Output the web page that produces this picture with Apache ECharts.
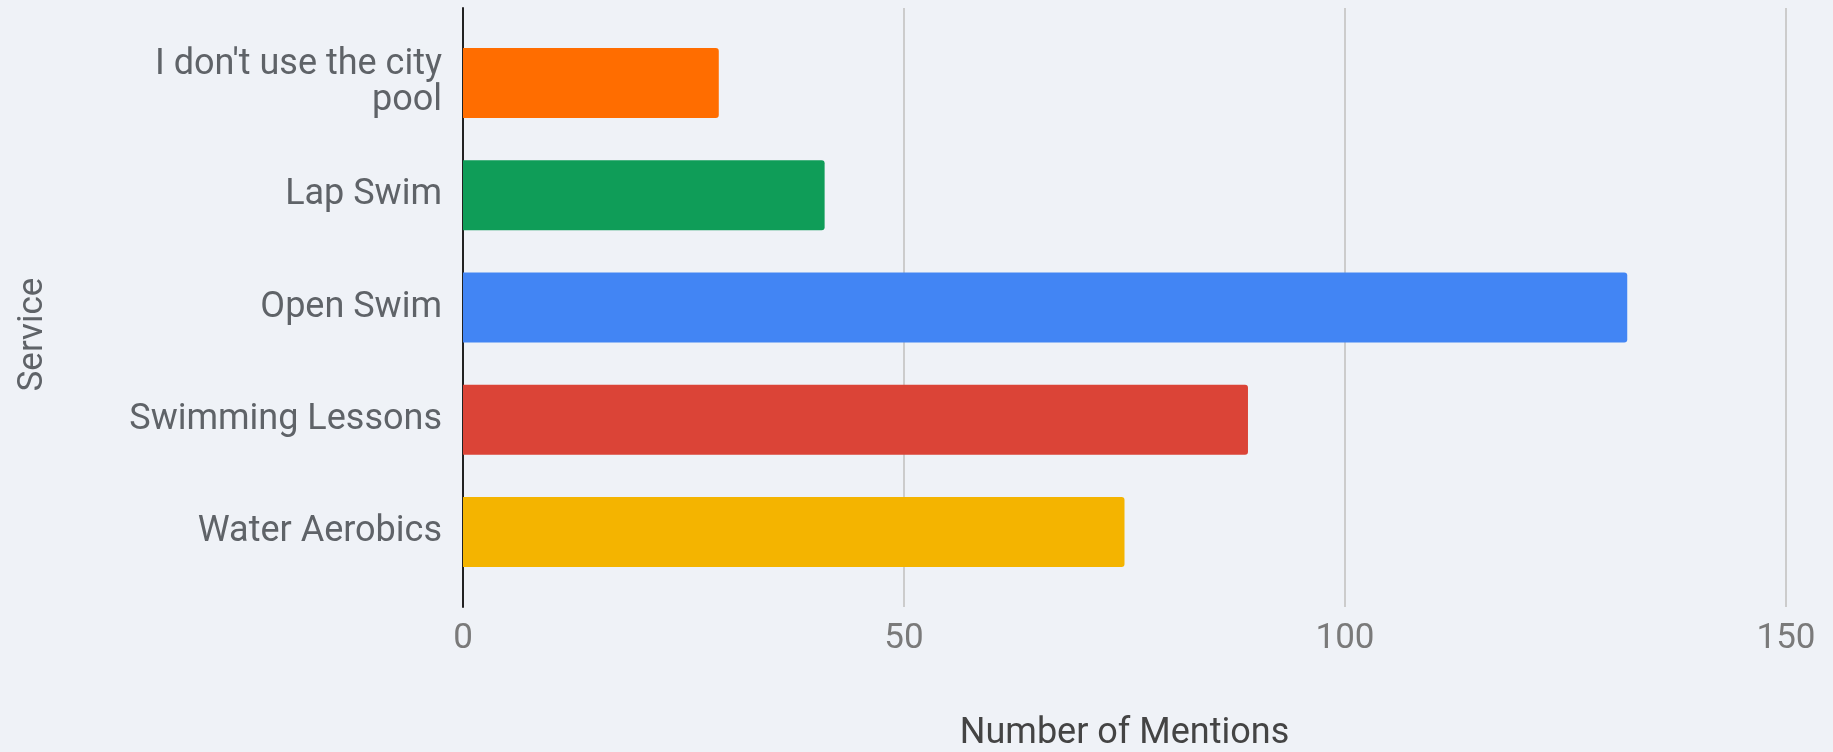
<!DOCTYPE html>
<html>
<head>
<meta charset="utf-8">
<script src="https://cdn.jsdelivr.net/npm/echarts@6/dist/echarts.min.js"></script>
<style>
    html, body { margin: 0; padding: 0; background: #eff2f7; }
    #chart { width: 1833px; height: 752px; }
</style>
</head>
<body>
<div id="chart"></div>
<script>
const services = ["I don't use the city\npool", 'Lap Swim', 'Open Swim', 'Swimming Lessons', 'Water Aerobics'];
const mentions = [29, 41, 132, 89, 75];
const barColors = ['#ff6d00', '#0f9d58', '#4285f4', '#db4437', '#f4b400'];
const xTicks = { min: 0, max: 150, interval: 50 };

const font = 'Roboto, "Noto Sans", sans-serif';

const chart = echarts.init(document.getElementById('chart'));

chart.setOption({
    backgroundColor: '#eff2f7',
    animation: false,
    grid: [
        // axis frame: gridlines + baseline
        { left: 463, right: 47, top: 8, bottom: 145, outerBoundsMode: 'none' },
        // bars + category labels
        { left: 463, right: 47, top: 27, bottom: 164, outerBoundsMode: 'none' }
    ],
    xAxis: [
        {
            gridIndex: 0,
            type: 'value',
            min: xTicks.min,
            max: xTicks.max,
            interval: xTicks.interval,
            axisLine: { show: false },
            axisTick: { show: false },
            splitLine: { lineStyle: { color: '#cccccc', width: 2 } },
            axisLabel: { fontFamily: font, fontSize: 35, color: '#7a7a7a', margin: 15 },
            name: 'Number of Mentions',
            nameLocation: 'middle',
            nameGap: 109,
            nameTextStyle: { fontFamily: font, fontSize: 36, color: '#444444' }
        },
        {
            gridIndex: 1,
            type: 'value',
            min: xTicks.min,
            max: xTicks.max,
            show: false
        }
    ],
    yAxis: [
        {
            gridIndex: 0,
            type: 'value',
            min: 0,
            max: 1,
            axisLine: { show: true, lineStyle: { color: '#222222', width: 2 } },
            axisTick: { show: false },
            axisLabel: { show: false },
            splitLine: { show: false }
        },
        {
            gridIndex: 1,
            type: 'category',
            inverse: true,
            data: services,
            axisLine: { show: false },
            axisTick: { show: false },
            axisLabel: {
                fontFamily: font,
                fontSize: 36,
                lineHeight: 36,
                color: '#5f6368',
                margin: 21,
                align: 'right'
            },
            name: 'Service',
            nameLocation: 'middle',
            nameRotate: 90,
            nameGap: 412,
            nameTextStyle: { fontFamily: font, fontSize: 35, color: '#5f6368', padding: [0, 54, 0, 0] }
        }
    ],
    series: [{
        type: 'bar',
        xAxisIndex: 1,
        yAxisIndex: 1,
        barCategoryGap: '37.6%',
        data: mentions.map((v, i) => ({ value: v, itemStyle: { color: barColors[i] } })),
        itemStyle: { borderRadius: [0, 3, 3, 0] },
        z: 1
    }]
});
</script>
</body>
</html>
